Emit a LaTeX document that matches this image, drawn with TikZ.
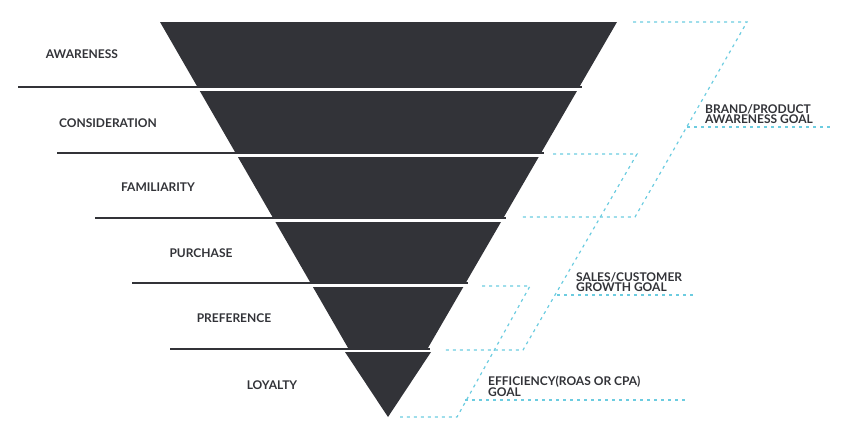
\documentclass[tikz,border=0pt]{standalone}
\usepackage{fontspec}
\setmainfont{Lato}
\definecolor{funnel}{HTML}{323338}
\definecolor{goal}{HTML}{6CCCE0}
\tikzset{
  stage/.style={font=\fontsize{12}{13}\selectfont\bfseries, text=funnel},
  goaltext/.style={font=\fontsize{12}{10.5}\selectfont\bfseries, text=funnel, align=left, anchor=south west, inner sep=1pt},
  goalline/.style={goal, line width=1.2pt, dash pattern=on 3pt off 4pt},
  base/.style={funnel, line width=2.6pt}
}
\begin{document}
\begin{tikzpicture}[x=1pt,y=-1pt]
        \useasboundingbox (0,0) rectangle (842,440);
        % funnel bands: top, bottom, left end of base line
        \foreach \ya/\yb/\xl in {22/86/18, 91/152/57, 157/217/95, 222/282/132, 287/348/170}{
          \fill[funnel] ({160+0.577*(\ya-22)},\ya) -- ({617-0.58*(\ya-22)},\ya)
            -- ({617-0.58*(\yb-22)},\yb) -- ({160+0.577*(\yb-22)},\yb) -- cycle;
          \draw[base] (\xl,\yb+1) -- ({619-0.58*(\yb-22)},\yb+1);
        }
        \fill[funnel] (345,352) -- (431,352) -- (388,417) -- cycle;
        \node[stage] (awareness) at (82,54) {AWARENESS};
        \node[stage] (consideration) at (108,123) {CONSIDERATION};
        \node[stage] (familiarity) at (158,187) {FAMILIARITY};
        \node[stage] (purchase) at (201,253) {PURCHASE};
        \node[stage] (preference) at (234,318) {PREFERENCE};
        \node[stage] (loyalty) at (272,385) {LOYALTY};
        % goal brackets
        \draw[goalline] (633,22) -- (747,22) -- (635,217) -- (520,217);
        \draw[goalline] (687,127) -- (830,127);
        \node[goaltext] (brand) at (704,125) {BRAND/PRODUCT\\AWARENESS GOAL};
        \draw[goalline] (553,154) -- (637,154) -- (523,350) -- (443,350);
        \draw[goalline] (557,295) -- (693,295);
        \node[goaltext] (sales) at (575,293) {SALES/CUSTOMER\\GROWTH GOAL};
        \draw[goalline] (482,286) -- (530,286) -- (457,417) -- (400,417);
        \draw[goalline] (465,400) -- (687,400);
        \node[goaltext] (efficiency) at (487,398) {EFFICIENCY(ROAS OR CPA)\\GOAL};
\end{tikzpicture}
\end{document}
